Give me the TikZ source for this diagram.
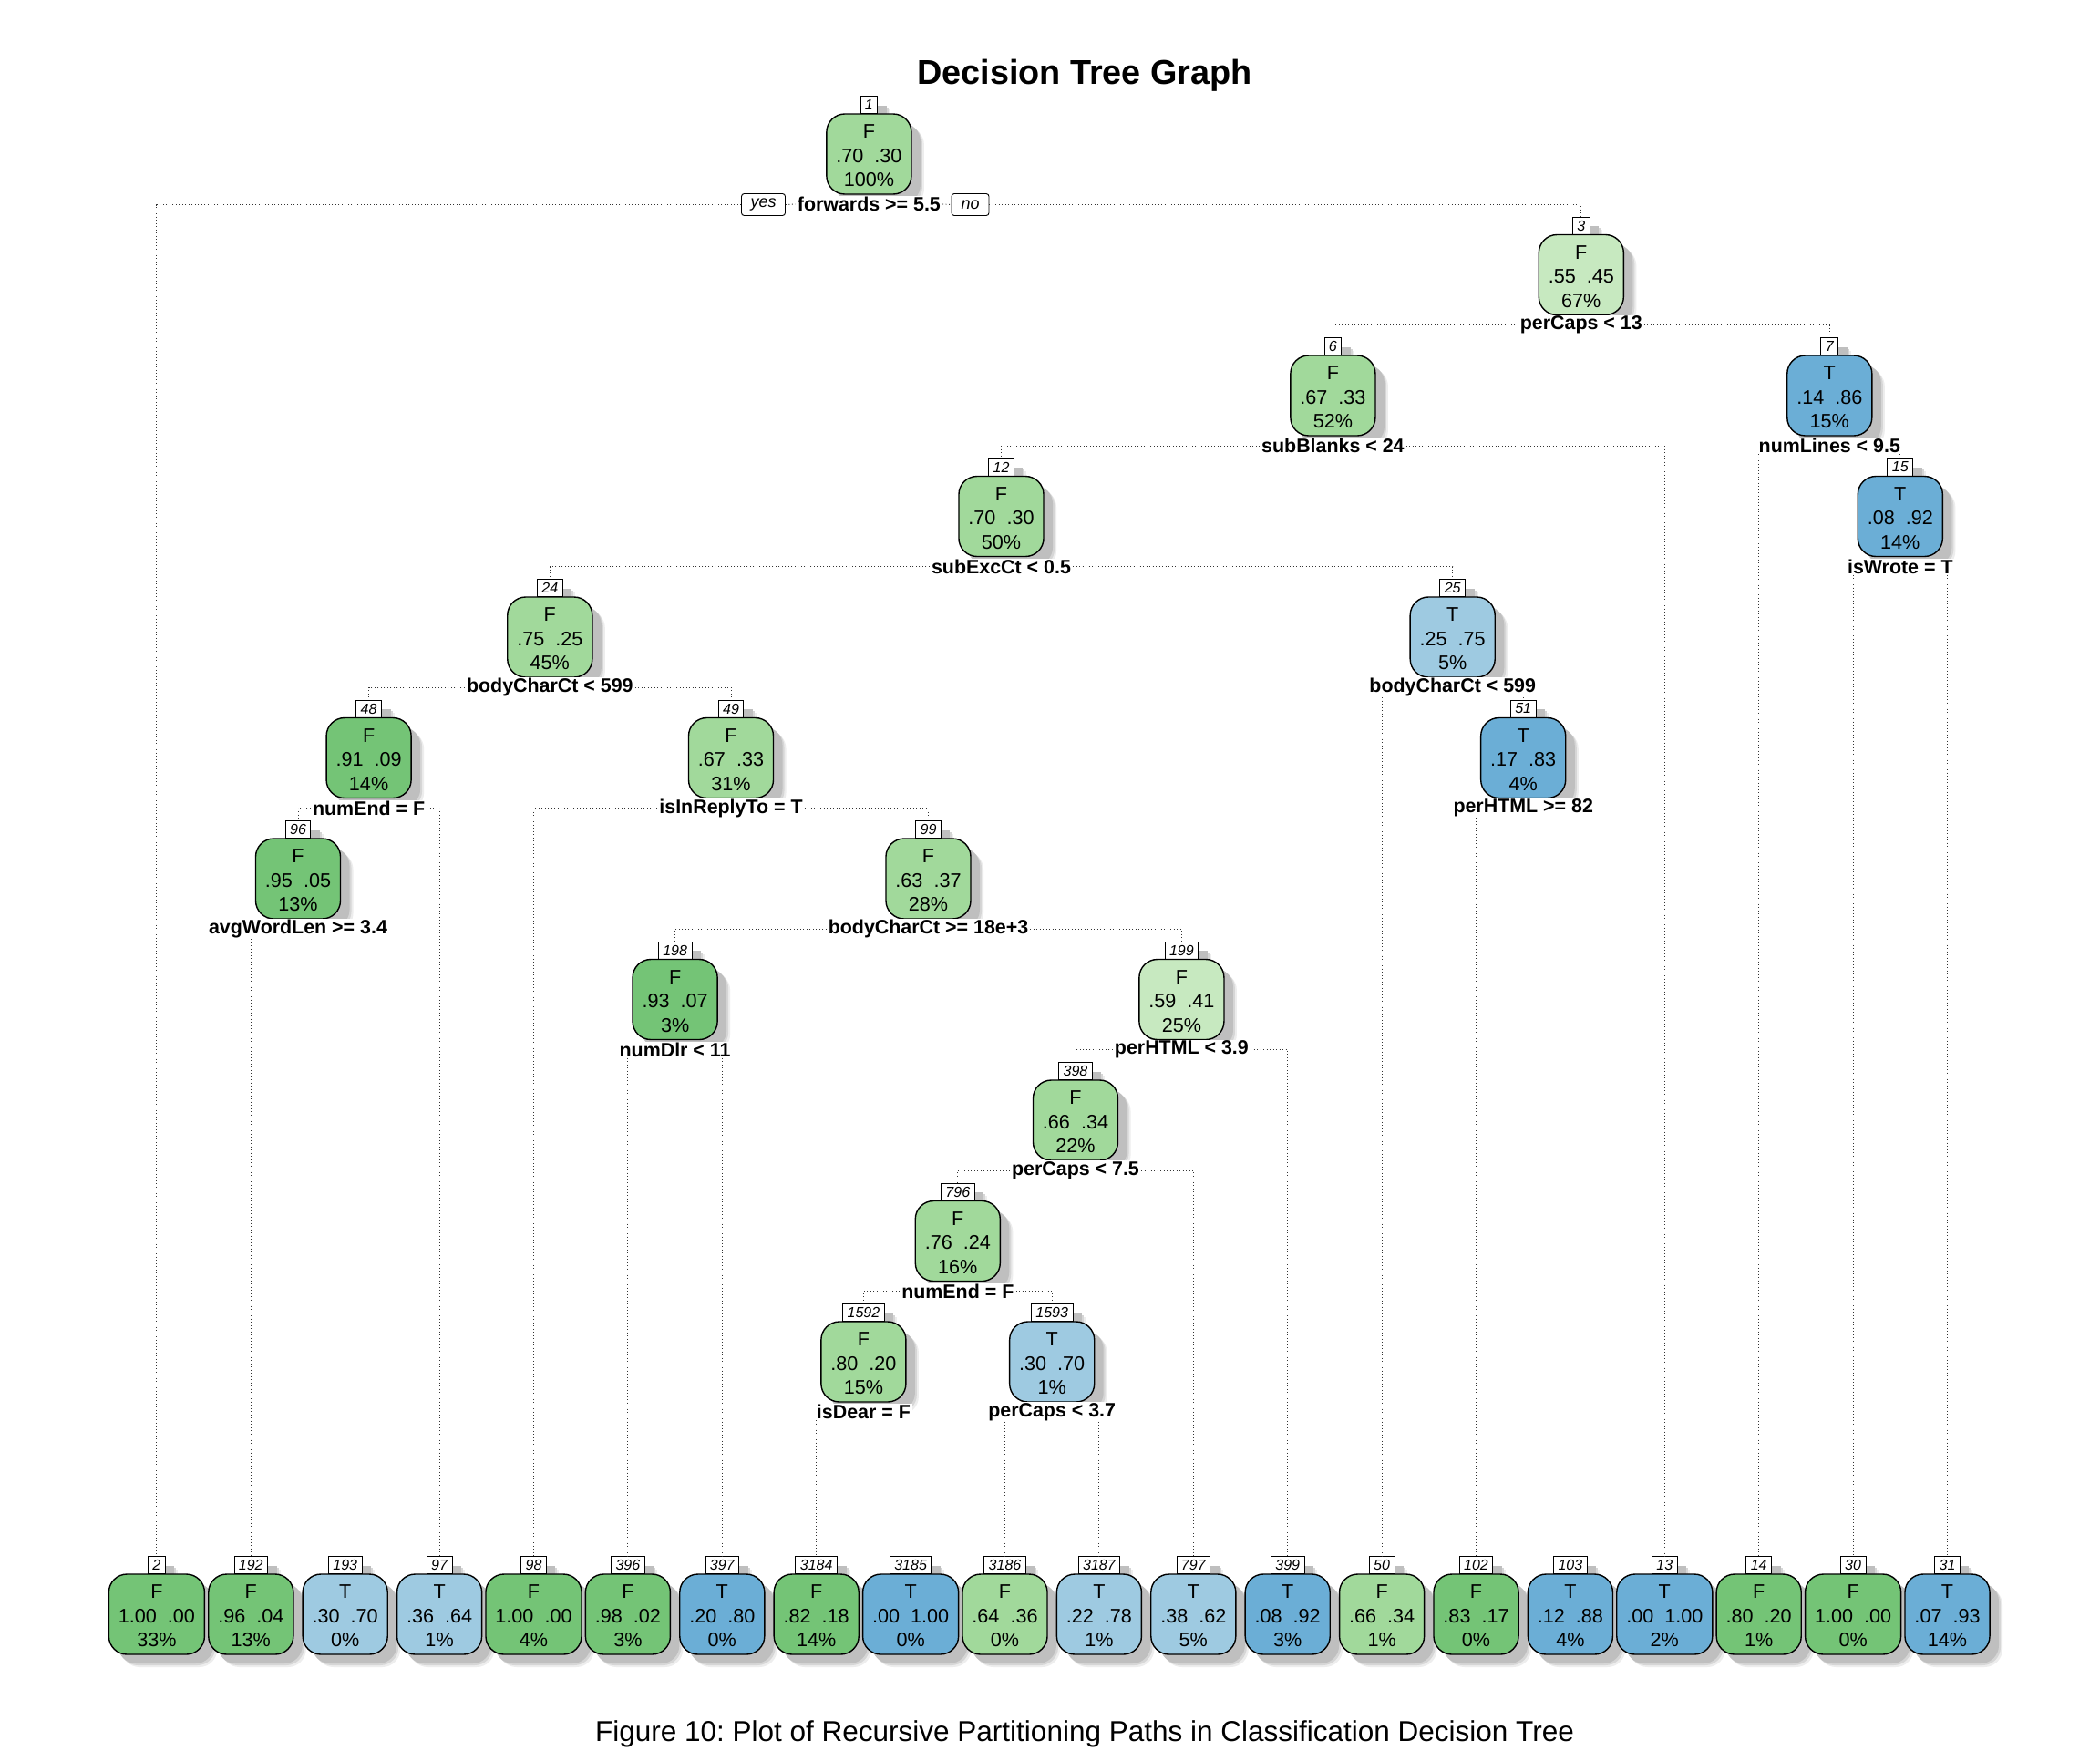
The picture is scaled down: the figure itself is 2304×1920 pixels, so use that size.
\documentclass[tikz,border=0pt]{standalone}
\usepackage{fontspec}
\setmainfont{Liberation Sans}
\usetikzlibrary{shadows}

\definecolor{gDark}{HTML}{74C476}
\definecolor{gMid}{HTML}{A1D99B}
\definecolor{gLight}{HTML}{C7E9C0}
\definecolor{bLight}{HTML}{9ECAE1}
\definecolor{bMid}{HTML}{6BAED6}
\definecolor{shade}{HTML}{BFBFBF}

\tikzset{
  softshadow/.style={
    drop shadow={shadow xshift=14pt, shadow yshift=-14pt, fill=black!7, opacity=1},
    drop shadow={shadow xshift=12pt, shadow yshift=-12pt, fill=black!16, opacity=1},
    drop shadow={shadow xshift=10pt, shadow yshift=-10pt, fill=shade, opacity=1}},
  tbox/.style={draw=black, line width=1.4pt, rounded corners=20pt,
    minimum height=88pt, inner xsep=10.5pt, inner ysep=2pt, align=center,
    font=\fontsize{21.6}{26.5}\selectfont, softshadow},
  numbox/.style={draw=black, line width=0.9pt, fill=white, inner xsep=5pt,
    inner ysep=0pt, minimum height=19pt, anchor=south,
    font=\fontsize{16}{16}\selectfont\itshape, softshadow},
  split/.style={fill=white, inner xsep=2pt, inner ysep=1pt,
    font=\fontsize{21.4}{24}\selectfont\bfseries},
  yn/.style={draw=black, line width=0.9pt, rounded corners=3pt, fill=white,
    inner sep=0pt, minimum height=24pt, font=\fontsize{18}{18}\selectfont\itshape},
  conn/.style={line width=0.9pt, black!80, dash pattern=on 0.9pt off 2.6pt},
}

% tree node: name, x, y, id, fill, class, p(F), p(T), share
\newcommand{\treebox}[9]{%
  \node[numbox] (#1l) at (#2,#3-44) {#4};
  \node[tbox, fill=#5] (#1) at (#2,#3) {\rule{0pt}{19pt}#6\\#7\hspace{0.556em}#8\\#9};
}
% split rule printed under a node
\newcommand{\splitlab}[2]{\node[split] (#1s) at ([yshift=-55pt]#1.center) {#2};}
% branch leaving the side of a rule, then dropping to the child
\newcommand{\outedge}[3]{\draw[conn] (#1s.#2) -| (#3l.north);}
% branch dropping straight from under a rule
\newcommand{\inedge}[2]{\draw[conn] (#2l.north |- #1s.south) -- (#2l.north);}

\begin{document}
\frenchspacing
\begin{tikzpicture}[x=1pt, y=-1pt]
\fill[white] (0,0) rectangle (2304,1920);
\useasboundingbox (0,0) rectangle (2304,1920);

\node[font=\fontsize{37.8}{40}\selectfont\bfseries] (title) at (1190,83) {Decision Tree Graph};

% inner nodes
\treebox{N1}{953.4}{169}{1}{gMid}{F}{.70}{.30}{100\%}
\treebox{N3}{1734.8}{301.5}{3}{gLight}{F}{.55}{.45}{67\%}
\treebox{N6}{1462.4}{434}{6}{gMid}{F}{.67}{.33}{52\%}
\treebox{N7}{2007.3}{434}{7}{bMid}{T}{.14}{.86}{15\%}
\treebox{N12}{1098.5}{566.5}{12}{gMid}{F}{.70}{.30}{50\%}
\treebox{N15}{2084.8}{566.5}{15}{bMid}{T}{.08}{.92}{14\%}
\treebox{N24}{603.3}{699}{24}{gMid}{F}{.75}{.25}{45\%}
\treebox{N25}{1593.7}{699}{25}{bLight}{T}{.25}{.75}{5\%}
\treebox{N48}{404.6}{831.5}{48}{gDark}{F}{.91}{.09}{14\%}
\treebox{N49}{802.0}{831.5}{49}{gMid}{F}{.67}{.33}{31\%}
\treebox{N51}{1671.2}{831.5}{51}{bMid}{T}{.17}{.83}{4\%}
\treebox{N96}{327.0}{964}{96}{gDark}{F}{.95}{.05}{13\%}
\treebox{N99}{1018.5}{964}{99}{gMid}{F}{.63}{.37}{28\%}
\treebox{N198}{740.6}{1096.5}{198}{gDark}{F}{.93}{.07}{3\%}
\treebox{N199}{1296.4}{1096.5}{199}{gLight}{F}{.59}{.41}{25\%}
\treebox{N398}{1180.0}{1229}{398}{gMid}{F}{.66}{.34}{22\%}
\treebox{N796}{1050.8}{1361.5}{796}{gMid}{F}{.76}{.24}{16\%}
\treebox{N1592}{947.4}{1494}{1592}{gMid}{F}{.80}{.20}{15\%}
\treebox{N1593}{1154.2}{1494}{1593}{bLight}{T}{.30}{.70}{1\%}

% leaves
\treebox{L2}{171.9}{1771}{2}{gDark}{F}{1.00}{.00}{33\%}
\treebox{L192}{275.3}{1771}{192}{gDark}{F}{.96}{.04}{13\%}
\treebox{L193}{378.7}{1771}{193}{bLight}{T}{.30}{.70}{0\%}
\treebox{L97}{482.1}{1771}{97}{bLight}{T}{.36}{.64}{1\%}
\treebox{L98}{585.5}{1771}{98}{gDark}{F}{1.00}{.00}{4\%}
\treebox{L396}{688.9}{1771}{396}{gDark}{F}{.98}{.02}{3\%}
\treebox{L397}{792.3}{1771}{397}{bMid}{T}{.20}{.80}{0\%}
\treebox{L3184}{895.7}{1771}{3184}{gDark}{F}{.82}{.18}{14\%}
\treebox{L3185}{999.1}{1771}{3185}{bMid}{T}{.00}{1.00}{0\%}
\treebox{L3186}{1102.5}{1771}{3186}{gMid}{F}{.64}{.36}{0\%}
\treebox{L3187}{1205.9}{1771}{3187}{bLight}{T}{.22}{.78}{1\%}
\treebox{L797}{1309.3}{1771}{797}{bLight}{T}{.38}{.62}{5\%}
\treebox{L399}{1412.7}{1771}{399}{bMid}{T}{.08}{.92}{3\%}
\treebox{L50}{1516.1}{1771}{50}{gMid}{F}{.66}{.34}{1\%}
\treebox{L102}{1619.5}{1771}{102}{gDark}{F}{.83}{.17}{0\%}
\treebox{L103}{1722.9}{1771}{103}{bMid}{T}{.12}{.88}{4\%}
\treebox{L13}{1826.3}{1771}{13}{bMid}{T}{.00}{1.00}{2\%}
\treebox{L14}{1929.7}{1771}{14}{gDark}{F}{.80}{.20}{1\%}
\treebox{L30}{2033.1}{1771}{30}{gDark}{F}{1.00}{.00}{0\%}
\treebox{L31}{2136.5}{1771}{31}{bMid}{T}{.07}{.93}{14\%}

% split rules
\splitlab{N1}{forwards >= 5.5}
\splitlab{N3}{perCaps < 13}
\splitlab{N6}{subBlanks < 24}
\splitlab{N7}{numLines < 9.5}
\splitlab{N12}{subExcCt < 0.5}
\splitlab{N15}{isWrote = T}
\splitlab{N24}{bodyCharCt < 599}
\splitlab{N25}{bodyCharCt < 599}
\splitlab{N48}{numEnd = F}
\splitlab{N49}{isInReplyTo = T}
\splitlab{N51}{perHTML >= 82}
\splitlab{N96}{avgWordLen >= 3.4}
\splitlab{N99}{bodyCharCt >= 18e+3}
\splitlab{N198}{numDlr < 11}
\splitlab{N199}{perHTML < 3.9}
\splitlab{N398}{perCaps < 7.5}
\splitlab{N796}{numEnd = F}
\splitlab{N1592}{isDear = F}
\splitlab{N1593}{perCaps < 3.7}

\node[yn, minimum width=48pt] (yes) at (837.5,224.5) {yes};
\node[yn, minimum width=41pt] (no) at (1064.5,224.5) {no};

% branches
\draw[conn] (yes.east) -- (N1s.west);
\draw[conn] (N1s.east) -- (no.west);
\draw[conn] (yes.west) -| (L2l.north);
\draw[conn] (no.east) -| (N3l.north);
\outedge{N3}{west}{N6} \outedge{N3}{east}{N7}
\outedge{N6}{west}{N12} \outedge{N6}{east}{L13}
\inedge{N7}{L14} \inedge{N7}{N15}
\outedge{N12}{west}{N24} \outedge{N12}{east}{N25}
\inedge{N15}{L30} \inedge{N15}{L31}
\outedge{N24}{west}{N48} \outedge{N24}{east}{N49}
\inedge{N25}{L50} \inedge{N25}{N51}
\outedge{N48}{west}{N96} \outedge{N48}{east}{L97}
\outedge{N49}{west}{L98} \outedge{N49}{east}{N99}
\inedge{N51}{L102} \inedge{N51}{L103}
\inedge{N96}{L192} \inedge{N96}{L193}
\outedge{N99}{west}{N198} \outedge{N99}{east}{N199}
\inedge{N198}{L396} \inedge{N198}{L397}
\outedge{N199}{west}{N398} \outedge{N199}{east}{L399}
\outedge{N398}{west}{N796} \outedge{N398}{east}{L797}
\outedge{N796}{west}{N1592} \outedge{N796}{east}{N1593}
\inedge{N1592}{L3184} \inedge{N1592}{L3185}
\inedge{N1593}{L3186} \inedge{N1593}{L3187}

\node[font=\fontsize{31.5}{34}\selectfont] (caption) at (1190,1902)
  {Figure 10: Plot of Recursive Partitioning Paths in Classification Decision Tree};
\end{tikzpicture}
\end{document}
